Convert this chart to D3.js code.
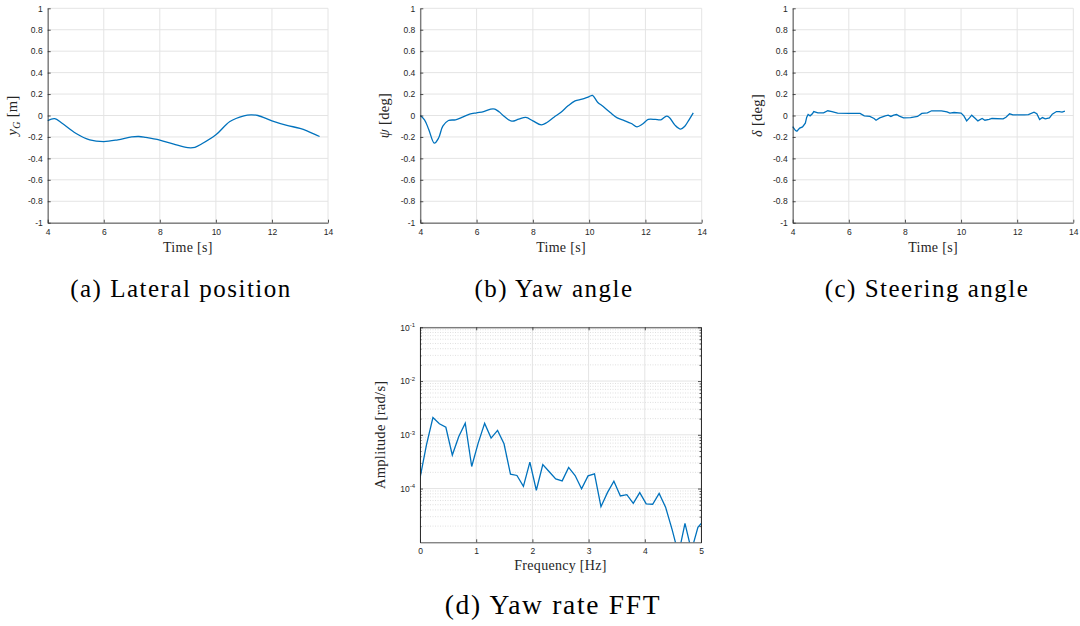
<!DOCTYPE html>
<html>
<head>
<meta charset="utf-8">
<script src="https://cdn.jsdelivr.net/npm/d3@7"></script>
<style>
  body { margin: 0; background: #fff; }
  .tick text { font-family: "Liberation Sans", Arial, sans-serif; font-size: 8.5px; fill: #262626; }
</style>
</head>
<body>
<script>
// (a) lateral position
let timeA = [4.0, 4.25, 4.5, 5.0, 5.5, 6.0, 6.5, 7.0, 7.25, 7.5, 8.0, 8.5, 9.0, 9.25, 9.5, 10.0, 10.5, 11.0, 11.25, 11.5, 12.0, 12.5, 13.0, 13.25, 13.7];
let latPos = [-0.047, -0.03, -0.07, -0.165, -0.227, -0.243, -0.227, -0.2, -0.196, -0.205, -0.23, -0.268, -0.3, -0.297, -0.264, -0.18, -0.056, -0.003, 0.006, 0.0, -0.05, -0.09, -0.12, -0.143, -0.196];

// (b) yaw angle
let timeB = [4.0, 4.15, 4.3, 4.5, 4.65, 4.8, 5.0, 5.25, 5.5, 5.75, 6.0, 6.25, 6.5, 6.65, 6.8, 7.0, 7.25, 7.5, 7.75, 8.0, 8.3, 8.5, 8.75, 9.0, 9.25, 9.5, 9.75, 10.0, 10.12, 10.3, 10.5, 10.75, 11.0, 11.25, 11.5, 11.7, 11.9, 12.1, 12.35, 12.55, 12.75, 12.85, 13.05, 13.25, 13.4, 13.55, 13.7];
let yawAngle = [0, -0.04, -0.13, -0.258, -0.21, -0.1, -0.047, -0.04, -0.016, 0.012, 0.025, 0.037, 0.06, 0.06, 0.034, -0.012, -0.053, -0.034, -0.018, -0.05, -0.087, -0.065, -0.016, 0.03, 0.09, 0.137, 0.152, 0.177, 0.187, 0.124, 0.084, 0.028, -0.022, -0.047, -0.075, -0.106, -0.08, -0.037, -0.037, -0.04, -0.006, -0.018, -0.09, -0.127, -0.1, -0.04, 0.025];

// (c) steering angle
let timeC = [4.0, 4.1, 4.15, 4.25, 4.35, 4.45, 4.5, 4.55, 4.62, 4.7, 4.75, 4.9, 5.1, 5.25, 5.4, 5.6, 6.0, 6.4, 6.55, 6.75, 6.9, 6.97, 7.1, 7.3, 7.4, 7.5, 7.6, 7.7, 7.8, 7.95, 8.2, 8.45, 8.6, 8.8, 8.95, 9.3, 9.5, 9.6, 9.75, 10.0, 10.1, 10.2, 10.3, 10.38, 10.5, 10.6, 10.75, 10.85, 11.0, 11.1, 11.5, 11.6, 11.73, 11.85, 12.25, 12.4, 12.6, 12.7, 12.8, 12.9, 13.0, 13.15, 13.25, 13.4, 13.5, 13.6, 13.7];
let steerAngle = [-0.103, -0.14, -0.146, -0.118, -0.106, -0.072, -0.016, 0.009, -0.003, 0.016, 0.037, 0.025, 0.025, 0.044, 0.037, 0.022, 0.019, 0.019, -0.003, -0.009, -0.028, -0.044, -0.022, -0.003, 0.003, -0.009, 0.003, 0.009, -0.006, -0.022, -0.019, -0.009, 0.019, 0.025, 0.044, 0.044, 0.034, 0.022, 0.028, 0.022, -0.003, -0.05, -0.022, 0.003, -0.025, -0.05, -0.028, -0.044, -0.037, -0.028, -0.031, -0.016, 0.016, 0.006, 0.006, 0.009, 0.031, 0.016, -0.037, -0.019, -0.031, -0.022, 0.012, 0.037, 0.037, 0.031, 0.04];

// (d) yaw rate FFT
let freqHz = [0, 0.115, 0.23, 0.345, 0.46, 0.575, 0.69, 0.805, 0.92, 1.035, 1.15, 1.265, 1.38, 1.495, 1.61, 1.725, 1.84, 1.955, 2.07, 2.185, 2.3, 2.415, 2.53, 2.645, 2.76, 2.875, 2.99, 3.105, 3.22, 3.335, 3.45, 3.565, 3.68, 3.795, 3.91, 4.025, 4.14, 4.255, 4.37, 4.485, 4.6, 4.715, 4.83, 4.945, 5.06];
let fftAmp = [1.56e-4, 6.5e-4, 2.1e-3, 1.6e-3, 1.38e-3, 4.2e-4, 9.3e-4, 1.65e-3, 2.57e-4, 7.0e-4, 1.63e-3, 8.7e-4, 1.21e-3, 6.8e-4, 1.85e-4, 1.75e-4, 1.1e-4, 3.1e-4, 9.3e-5, 2.8e-4, 2.05e-4, 1.51e-4, 1.39e-4, 2.47e-4, 1.75e-4, 9.9e-5, 1.72e-4, 1.88e-4, 4.6e-5, 8.4e-5, 1.37e-4, 7.3e-5, 7.7e-5, 5.3e-5, 8.4e-5, 5.2e-5, 5.1e-5, 8.1e-5, 4.5e-5, 1.74e-5, 6e-6, 2.25e-5, 7e-6, 1.9e-5, 2.6e-5];

let timeTicks = [4, 6, 8, 10, 12, 14];
let angleTicks = [-1, -0.8, -0.6, -0.4, -0.2, 0, 0.2, 0.4, 0.6, 0.8, 1];
let freqTicks = [0, 1, 2, 3, 4, 5];
let decadeTicks = [1e-4, 1e-3, 1e-2, 1e-1];

let lineColor = '#0072bd';
let axisColor = '#262626';
let gridColor = '#e4e4e4';
let serif = '"Liberation Serif", "Times New Roman", serif';

let svg = d3.select('body').append('svg')
    .attr('width', 1080)
    .attr('height', 626)
    .style('background', '#fff');

function styleAxis(g) {
    g.selectAll('path, line').attr('stroke', axisColor).attr('stroke-width', 0.8);
}

function axisLabel(g) {
    return g.append('text')
        .attr('font-family', serif)
        .attr('font-size', 14)
        .attr('letter-spacing', 0.3)
        .attr('fill', axisColor)
        .attr('text-anchor', 'middle');
}

function drawTimePanel(box, xs, ys, curve, yLabel) {
    let x = d3.scaleLinear().domain([4, 14]).range([box.left, box.right]);
    let y = d3.scaleLinear().domain([-1, 1]).range([box.bottom, box.top]);
    let g = svg.append('g');

    // grid
    g.selectAll('.gx').data(timeTicks).enter().append('line')
        .attr('x1', d => x(d)).attr('x2', d => x(d))
        .attr('y1', box.top).attr('y2', box.bottom)
        .attr('stroke', gridColor).attr('stroke-width', 1);
    g.selectAll('.gy').data(angleTicks).enter().append('line')
        .attr('x1', box.left).attr('x2', box.right)
        .attr('y1', d => y(d)).attr('y2', d => y(d))
        .attr('stroke', gridColor).attr('stroke-width', 1);

    let line = d3.line().x((d, i) => x(xs[i])).y(d => y(d)).curve(curve);
    g.append('path')
        .datum(ys)
        .attr('d', line)
        .attr('fill', 'none')
        .attr('stroke', lineColor)
        .attr('stroke-width', 1.3);

    g.append('g')
        .attr('transform', `translate(0,${box.bottom})`)
        .call(d3.axisBottom(x).tickValues(timeTicks).tickSize(-3).tickSizeOuter(0).tickPadding(6).tickFormat(d3.format('d')))
        .call(styleAxis);
    g.append('g')
        .attr('transform', `translate(${box.left},0)`)
        .call(d3.axisLeft(y).tickValues(angleTicks).tickSize(-3).tickSizeOuter(0).tickPadding(5)
            .tickFormat(d => String(Math.abs(d) < 1e-9 ? 0 : +d.toFixed(1))))
        .call(styleAxis);

    axisLabel(g)
        .attr('x', (box.left + box.right) / 2)
        .attr('y', box.bottom + 29)
        .text('Time [s]');

    let yl = axisLabel(g)
        .attr('font-size', 14.5)
        .attr('transform', `translate(${box.left - 31},${(box.top + box.bottom) / 2}) rotate(-90)`);
    yLabel(yl);
}

drawTimePanel({left: 47.7, right: 328, top: 8.3, bottom: 222.7}, timeA, latPos, d3.curveCatmullRom, t => {
    t.append('tspan').style('font-style', 'italic').text('y');
    t.append('tspan').style('font-style', 'italic').style('font-size', '10px').attr('dy', 3).text('G');
    t.append('tspan').attr('dy', -3).text(' [m]');
});
drawTimePanel({left: 420.3, right: 701.7, top: 8.3, bottom: 222.7}, timeB, yawAngle, d3.curveCatmullRom, t => {
    t.append('tspan').style('font-style', 'italic').text('ψ');
    t.append('tspan').text(' [deg]');
});
drawTimePanel({left: 792.7, right: 1073.3, top: 8.3, bottom: 222.7}, timeC, steerAngle, d3.curveLinear, t => {
    t.append('tspan').style('font-style', 'italic').text('δ');
    t.append('tspan').text(' [deg]');
});

// FFT panel, log y
function drawFftPanel(box) {
    let x = d3.scaleLinear().domain([0, 5]).range([box.left, box.right]);
    let y = d3.scaleLog().domain([1e-5, 1e-1]).range([box.bottom, box.top]);
    let g = svg.append('g');

    let minor = [];
    [1e-5, 1e-4, 1e-3, 1e-2].forEach(dec => {
        for (let m = 2; m <= 9; m++) minor.push(dec * m);
    });

    g.selectAll('.gm').data(minor).enter().append('line')
        .attr('x1', box.left).attr('x2', box.right)
        .attr('y1', d => y(d)).attr('y2', d => y(d))
        .attr('stroke', '#d2d2d2').attr('stroke-width', 0.7)
        .attr('stroke-dasharray', '1,1.5');
    g.selectAll('.gx').data(freqTicks).enter().append('line')
        .attr('x1', d => x(d)).attr('x2', d => x(d))
        .attr('y1', box.top).attr('y2', box.bottom)
        .attr('stroke', gridColor).attr('stroke-width', 1);
    g.selectAll('.gy').data(decadeTicks).enter().append('line')
        .attr('x1', box.left).attr('x2', box.right)
        .attr('y1', d => y(d)).attr('y2', d => y(d))
        .attr('stroke', gridColor).attr('stroke-width', 1);

    svg.append('clipPath').attr('id', 'clipFft')
        .append('rect')
        .attr('x', box.left).attr('y', box.top)
        .attr('width', box.right - box.left).attr('height', box.bottom - box.top);

    let line = d3.line().x((d, i) => x(freqHz[i])).y(d => y(d));
    g.append('path')
        .datum(fftAmp)
        .attr('clip-path', 'url(#clipFft)')
        .attr('d', line)
        .attr('fill', 'none')
        .attr('stroke', lineColor)
        .attr('stroke-width', 1.3);

    // box with inward ticks
    g.append('g')
        .attr('transform', `translate(0,${box.bottom})`)
        .call(d3.axisBottom(x).tickValues(freqTicks).tickSize(-3).tickSizeOuter(0).tickPadding(6).tickFormat(d3.format('d')))
        .call(styleAxis);
    g.append('g')
        .attr('transform', `translate(0,${box.top})`)
        .call(d3.axisTop(x).tickValues(freqTicks).tickSize(-3).tickSizeOuter(0).tickFormat(''))
        .call(styleAxis);
    let yl = g.append('g')
        .attr('transform', `translate(${box.left},0)`)
        .call(d3.axisLeft(y).tickValues(decadeTicks).tickSize(-3).tickSizeOuter(0).tickPadding(5).tickFormat(''))
        .call(styleAxis);
    yl.selectAll('.tick text').each(function(d) {
        let t = d3.select(this);
        t.append('tspan').text('10');
        t.append('tspan').attr('dy', -3.5).style('font-size', '6px').text(Math.round(Math.log10(d)));
    });
    g.append('g')
        .attr('transform', `translate(${box.right},0)`)
        .call(d3.axisRight(y).tickValues(decadeTicks).tickSize(-3).tickSizeOuter(0).tickFormat(''))
        .call(styleAxis);
    // minor ticks
    g.append('g')
        .attr('transform', `translate(${box.left},0)`)
        .call(d3.axisLeft(y).tickValues(minor).tickSize(-1.5).tickSizeOuter(0).tickFormat(''))
        .call(styleAxis);
    g.append('g')
        .attr('transform', `translate(${box.right},0)`)
        .call(d3.axisRight(y).tickValues(minor).tickSize(-1.5).tickSizeOuter(0).tickFormat(''))
        .call(styleAxis);

    axisLabel(g)
        .attr('x', (box.left + box.right) / 2)
        .attr('y', box.bottom + 28)
        .text('Frequency [Hz]');
    axisLabel(g)
        .attr('font-size', 14.5)
        .attr('transform', `translate(${box.left - 35},${(box.top + box.bottom) / 2}) rotate(-90)`)
        .text('Amplitude [rad/s]');
}

drawFftPanel({left: 420, right: 701, top: 327.3, bottom: 542.3});

// captions
let captions = [
    {text: '(a) Lateral position', x: 181, y: 296.5, size: 25, spacing: 1.5},
    {text: '(b) Yaw angle', x: 554, y: 296.5, size: 25, spacing: 1.5},
    {text: '(c) Steering angle', x: 927, y: 296.5, size: 25, spacing: 1.5},
    {text: '(d) Yaw rate FFT', x: 553, y: 613.5, size: 27.5, spacing: 1.7}
];
svg.selectAll('.caption').data(captions).enter().append('text')
    .attr('class', 'caption')
    .attr('x', d => d.x)
    .attr('y', d => d.y)
    .attr('text-anchor', 'middle')
    .attr('font-family', serif)
    .attr('font-size', d => d.size)
    .attr('letter-spacing', d => d.spacing)
    .attr('fill', '#000')
    .text(d => d.text);
</script>
</body>
</html>
